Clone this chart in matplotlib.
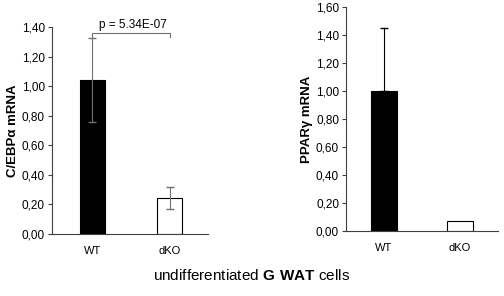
import numpy as np
import matplotlib.pyplot as plt
from matplotlib.ticker import FuncFormatter, MultipleLocator

plt.rcParams['font.family'] = ['Liberation Sans', 'DejaVu Sans']
plt.rcParams['mathtext.fontset'] = 'custom'
plt.rcParams['mathtext.rm'] = 'Liberation Sans'
plt.rcParams['mathtext.bf'] = 'Liberation Sans:bold'

groups = ["WT", "dKO"]
cebpa = [1.04, 0.245]
cebpa_err = [0.285, 0.075]
pparg = [1.00, 0.07]
pparg_err = [0.45, 0.0]
p_text = "p = 5.34E-07"

comma = FuncFormatter(lambda v, pos: "{:.2f}".format(v).replace(".", ","))

fig = plt.figure(figsize=(5.04, 2.96), dpi=100)

def setup(ax, ymax, label):
    ax.spines['top'].set_visible(False)
    ax.spines['right'].set_visible(False)
    ax.spines['left'].set_color('#404040')
    ax.spines['bottom'].set_color('#404040')
    ax.set_ylim(0, ymax)
    ax.yaxis.set_major_locator(MultipleLocator(0.2))
    ax.yaxis.set_major_formatter(comma)
    ax.tick_params(axis='y', labelsize=8.5, length=3, color='#404040', pad=2)
    ax.tick_params(axis='x', labelsize=8, length=0, pad=9)
    ax.set_ylabel(label, fontsize=9.5, fontweight='bold', labelpad=2)

x = np.arange(len(groups))

ax1 = fig.add_axes([0.103, 0.2095, 0.310, 0.699])
ax1.bar(x, cebpa, width=0.33, color=['black', 'white'], edgecolor='black', linewidth=0.8)
ax1.errorbar(x, cebpa, yerr=cebpa_err, fmt='none', ecolor='#707070', elinewidth=0.8, capsize=3)
ax1.set_xlim(-0.526, 1.5)
ax1.set_xticks(x)
ax1.set_xticklabels(groups)
setup(ax1, 1.40, "C/EBP\u03b1 mRNA")
# significance bracket
y0 = cebpa[0] + cebpa_err[0]
ax1.plot([0, 0, 1, 1], [y0, 1.36, 1.36, 1.33], color='#707070', lw=0.8, clip_on=False)
ax1.text(0.52, 1.375, p_text, ha='center', va='bottom', fontsize=8.5)

ax2 = fig.add_axes([0.6865, 0.2196, 0.3016, 0.757])
ax2.bar(x, pparg, width=0.34, color=['black', 'white'], edgecolor='black', linewidth=0.8)
ax2.errorbar(x[:1], pparg[:1], yerr=[[0], pparg_err[:1]], fmt='none', ecolor='black',
             elinewidth=0.8, capsize=3)
ax2.set_xlim(-0.5, 1.5)
ax2.set_xticks(x)
ax2.set_xticklabels(groups)
setup(ax2, 1.60, "PPAR\u03b3 mRNA")

fig.text(0.5, 0.07, "undifferentiated $\\bf{G\\ WAT}$ cells", ha='center', va='center',
         fontsize=11)

fig.savefig("out.png", dpi=100)
